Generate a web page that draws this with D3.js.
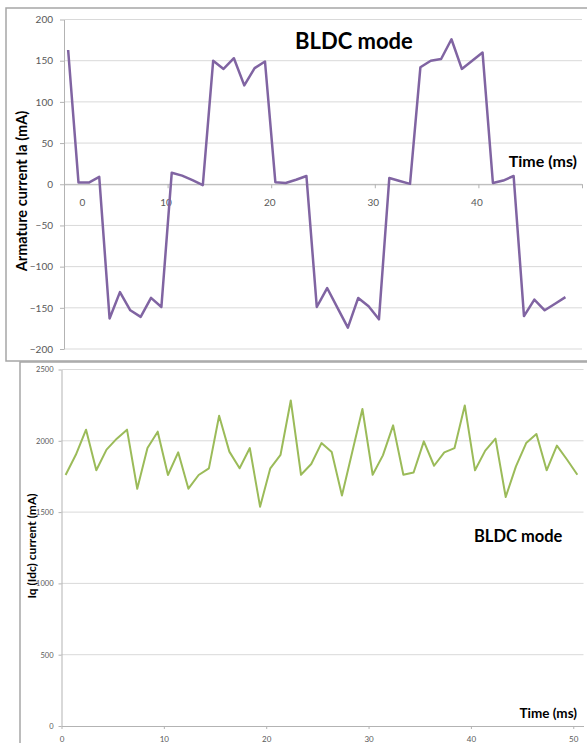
<!DOCTYPE html>
<html>
<head>
<meta charset="utf-8">
<script src="https://cdn.jsdelivr.net/npm/d3@7"></script>
<style>
  html, body { margin: 0; padding: 0; background: #fff; }
  svg { display: block; font-family: Lato, "Open Sans", sans-serif; }
</style>
</head>
<body>
<svg id="chart" width="587" height="743"></svg>
<script>
// Sample times (ms) shared by both traces
const time = [0.4, 1.4, 2.4, 3.4, 4.4, 5.4, 6.4, 7.4, 8.4, 9.4,
  10.4, 11.4, 12.4, 13.4, 14.4, 15.4, 16.4, 17.4, 18.4, 19.4,
  20.4, 21.4, 22.4, 23.4, 24.4, 25.4, 26.4, 27.4, 28.4, 29.4,
  30.4, 31.4, 32.4, 33.4, 34.4, 35.4, 36.4, 37.4, 38.4, 39.4,
  40.4, 41.4, 42.4, 43.4, 44.4, 45.4, 46.4, 47.4, 48.4, 49.4, 50.4];

// Armature current Ia (mA), BLDC mode
const armatureCurrent = [163, 2, 2, 9, -163, -131, -153, -161, -138, -149,
  14, 10.5, 5, -1, 150, 140, 153, 120, 141, 149,
  2.5, 1.5, 5.5, 10, -149, -126, -150, -174, -138, -148,
  -164, 7.5, 4, 0.5, 142, 150, 152, 176, 140, 150,
  160, 1.5, 4.5, 10, -160, -140, -153, -145, -137];

// Iq (Idc) current (mA), BLDC mode
const iqCurrent = [1760, 1902, 2078, 1793, 1938, 2015, 2078, 1664, 1949, 2064,
  1760, 1919, 1664, 1760, 1807, 2176, 1924, 1807, 1949, 1538,
  1807, 1902, 2283, 1762, 1837, 1984, 1921, 1617, 1920, 2223,
  1762, 1898, 2108, 1762, 1778, 1996, 1825, 1919, 1949, 2248,
  1793, 1931, 2015, 1606, 1821, 1984, 2048, 1793, 1966, 1867, 1762];

const topXTicks = [0, 10, 20, 30, 40];
const topYTicks = [-200, -150, -100, -50, 0, 50, 100, 150, 200];
const bottomXTicks = [0, 10, 20, 30, 40, 50];
const bottomYTicks = [0, 500, 1000, 1500, 2000, 2500];

const svg = d3.select("#chart");
const gridColor = "#d9d9d9";
const axisColor = "#b3b3b3";
const labelColor = "#595959";
const fmt = d3.format("d");

function styleAxis(g, fontSize) {
  g.select(".domain").attr("stroke", axisColor);
  g.selectAll(".tick line").attr("stroke", axisColor);
  g.selectAll(".tick text").attr("fill", labelColor)
    .attr("font-size", fontSize).attr("font-family", "Lato, sans-serif");
}

// ---------- Upper panel: armature current ----------
svg.append("rect").attr("x", 6).attr("y", 8).attr("width", 590).attr("height", 353)
  .attr("fill", "#fff").attr("stroke", "#a6a6a6").attr("stroke-width", 1.5);

const x1 = d3.scaleLinear().domain([0, 50]).range([64, 582]);
const y1 = d3.scaleLinear().domain([-200, 200]).range([349, 19.5]);

svg.append("g").selectAll("line").data(topYTicks).join("line")
  .attr("x1", x1(0)).attr("x2", x1(50))
  .attr("y1", d => y1(d)).attr("y2", d => y1(d))
  .attr("stroke", gridColor).attr("stroke-width", 1);

const y1Axis = svg.append("g").attr("transform", `translate(${x1(0)},0)`)
  .call(d3.axisLeft(y1).tickValues(topYTicks).tickSize(4).tickSizeOuter(0).tickPadding(7).tickFormat(fmt));
styleAxis(y1Axis, 10);

const x1Axis = svg.append("g").attr("transform", `translate(0,${y1(0)})`)
  .call(d3.axisBottom(x1).tickValues(topXTicks.concat([50])).tickSize(4).tickSizeOuter(0).tickPadding(11)
    .tickFormat(d => topXTicks.includes(d) ? fmt(d) : ""));
styleAxis(x1Axis, 10);
x1Axis.selectAll(".tick text").attr("dx", d => d === 0 ? 18 : -2);

const line1 = d3.line().x((d, i) => x1(time[i])).y(d => y1(d));
svg.append("path").datum(armatureCurrent)
  .attr("d", line1).attr("fill", "none")
  .attr("stroke", "#8064a2").attr("stroke-width", 2.5).attr("stroke-linejoin", "round");

svg.append("text").attr("x", 295).attr("y", 49)
  .attr("font-size", 22).attr("font-weight", "bold").attr("fill", "#000")
  .text("BLDC mode");
svg.append("text").attr("x", 577).attr("y", 167).attr("text-anchor", "end")
  .attr("font-size", 16).attr("font-weight", "bold").attr("fill", "#000")
  .text("Time (ms)");
svg.append("text").attr("transform", "translate(27,191) rotate(-90)")
  .attr("text-anchor", "middle")
  .attr("font-size", 14.5).attr("font-weight", "bold").attr("fill", "#000")
  .text("Armature current Ia (mA)");

// ---------- Lower panel: Iq (Idc) current ----------
svg.append("rect").attr("x", 20).attr("y", 362).attr("width", 580).attr("height", 400)
  .attr("fill", "#fff").attr("stroke", "#a6a6a6").attr("stroke-width", 1.5);

const x2 = d3.scaleLinear().domain([0, 51]).range([61.5, 583.5]);
const y2 = d3.scaleLinear().domain([0, 2500]).range([726, 369.5]);

svg.append("g").selectAll("line").data(bottomYTicks.filter(d => d > 0)).join("line")
  .attr("x1", x2(0)).attr("x2", x2(51))
  .attr("y1", d => y2(d)).attr("y2", d => y2(d))
  .attr("stroke", gridColor).attr("stroke-width", 1);

const y2Axis = svg.append("g").attr("transform", `translate(${x2(0)},0)`)
  .call(d3.axisLeft(y2).tickValues(bottomYTicks).tickSize(3).tickSizeOuter(0).tickPadding(5).tickFormat(fmt));
styleAxis(y2Axis, 7.5);

const x2Axis = svg.append("g").attr("transform", `translate(0,${y2(0)})`)
  .call(d3.axisBottom(x2).tickValues(bottomXTicks).tickSize(3).tickSizeOuter(0).tickPadding(7).tickFormat(fmt));
styleAxis(x2Axis, 8);

const line2 = d3.line().x((d, i) => x2(time[i])).y(d => y2(d));
svg.append("path").datum(iqCurrent)
  .attr("d", line2).attr("fill", "none")
  .attr("stroke", "#9bbb59").attr("stroke-width", 2).attr("stroke-linejoin", "round");

svg.append("text").attr("x", 474).attr("y", 542)
  .attr("font-size", 16.5).attr("font-weight", "bold").attr("fill", "#000")
  .text("BLDC mode");
svg.append("text").attr("x", 577).attr("y", 718).attr("text-anchor", "end")
  .attr("font-size", 13.5).attr("font-weight", "bold").attr("fill", "#000")
  .text("Time (ms)");
svg.append("text").attr("transform", "translate(36,546) rotate(-90)")
  .attr("text-anchor", "middle")
  .attr("font-size", 12).attr("font-weight", "bold").attr("fill", "#000")
  .text("Iq (Idc) current (mA)");
</script>
</body>
</html>
